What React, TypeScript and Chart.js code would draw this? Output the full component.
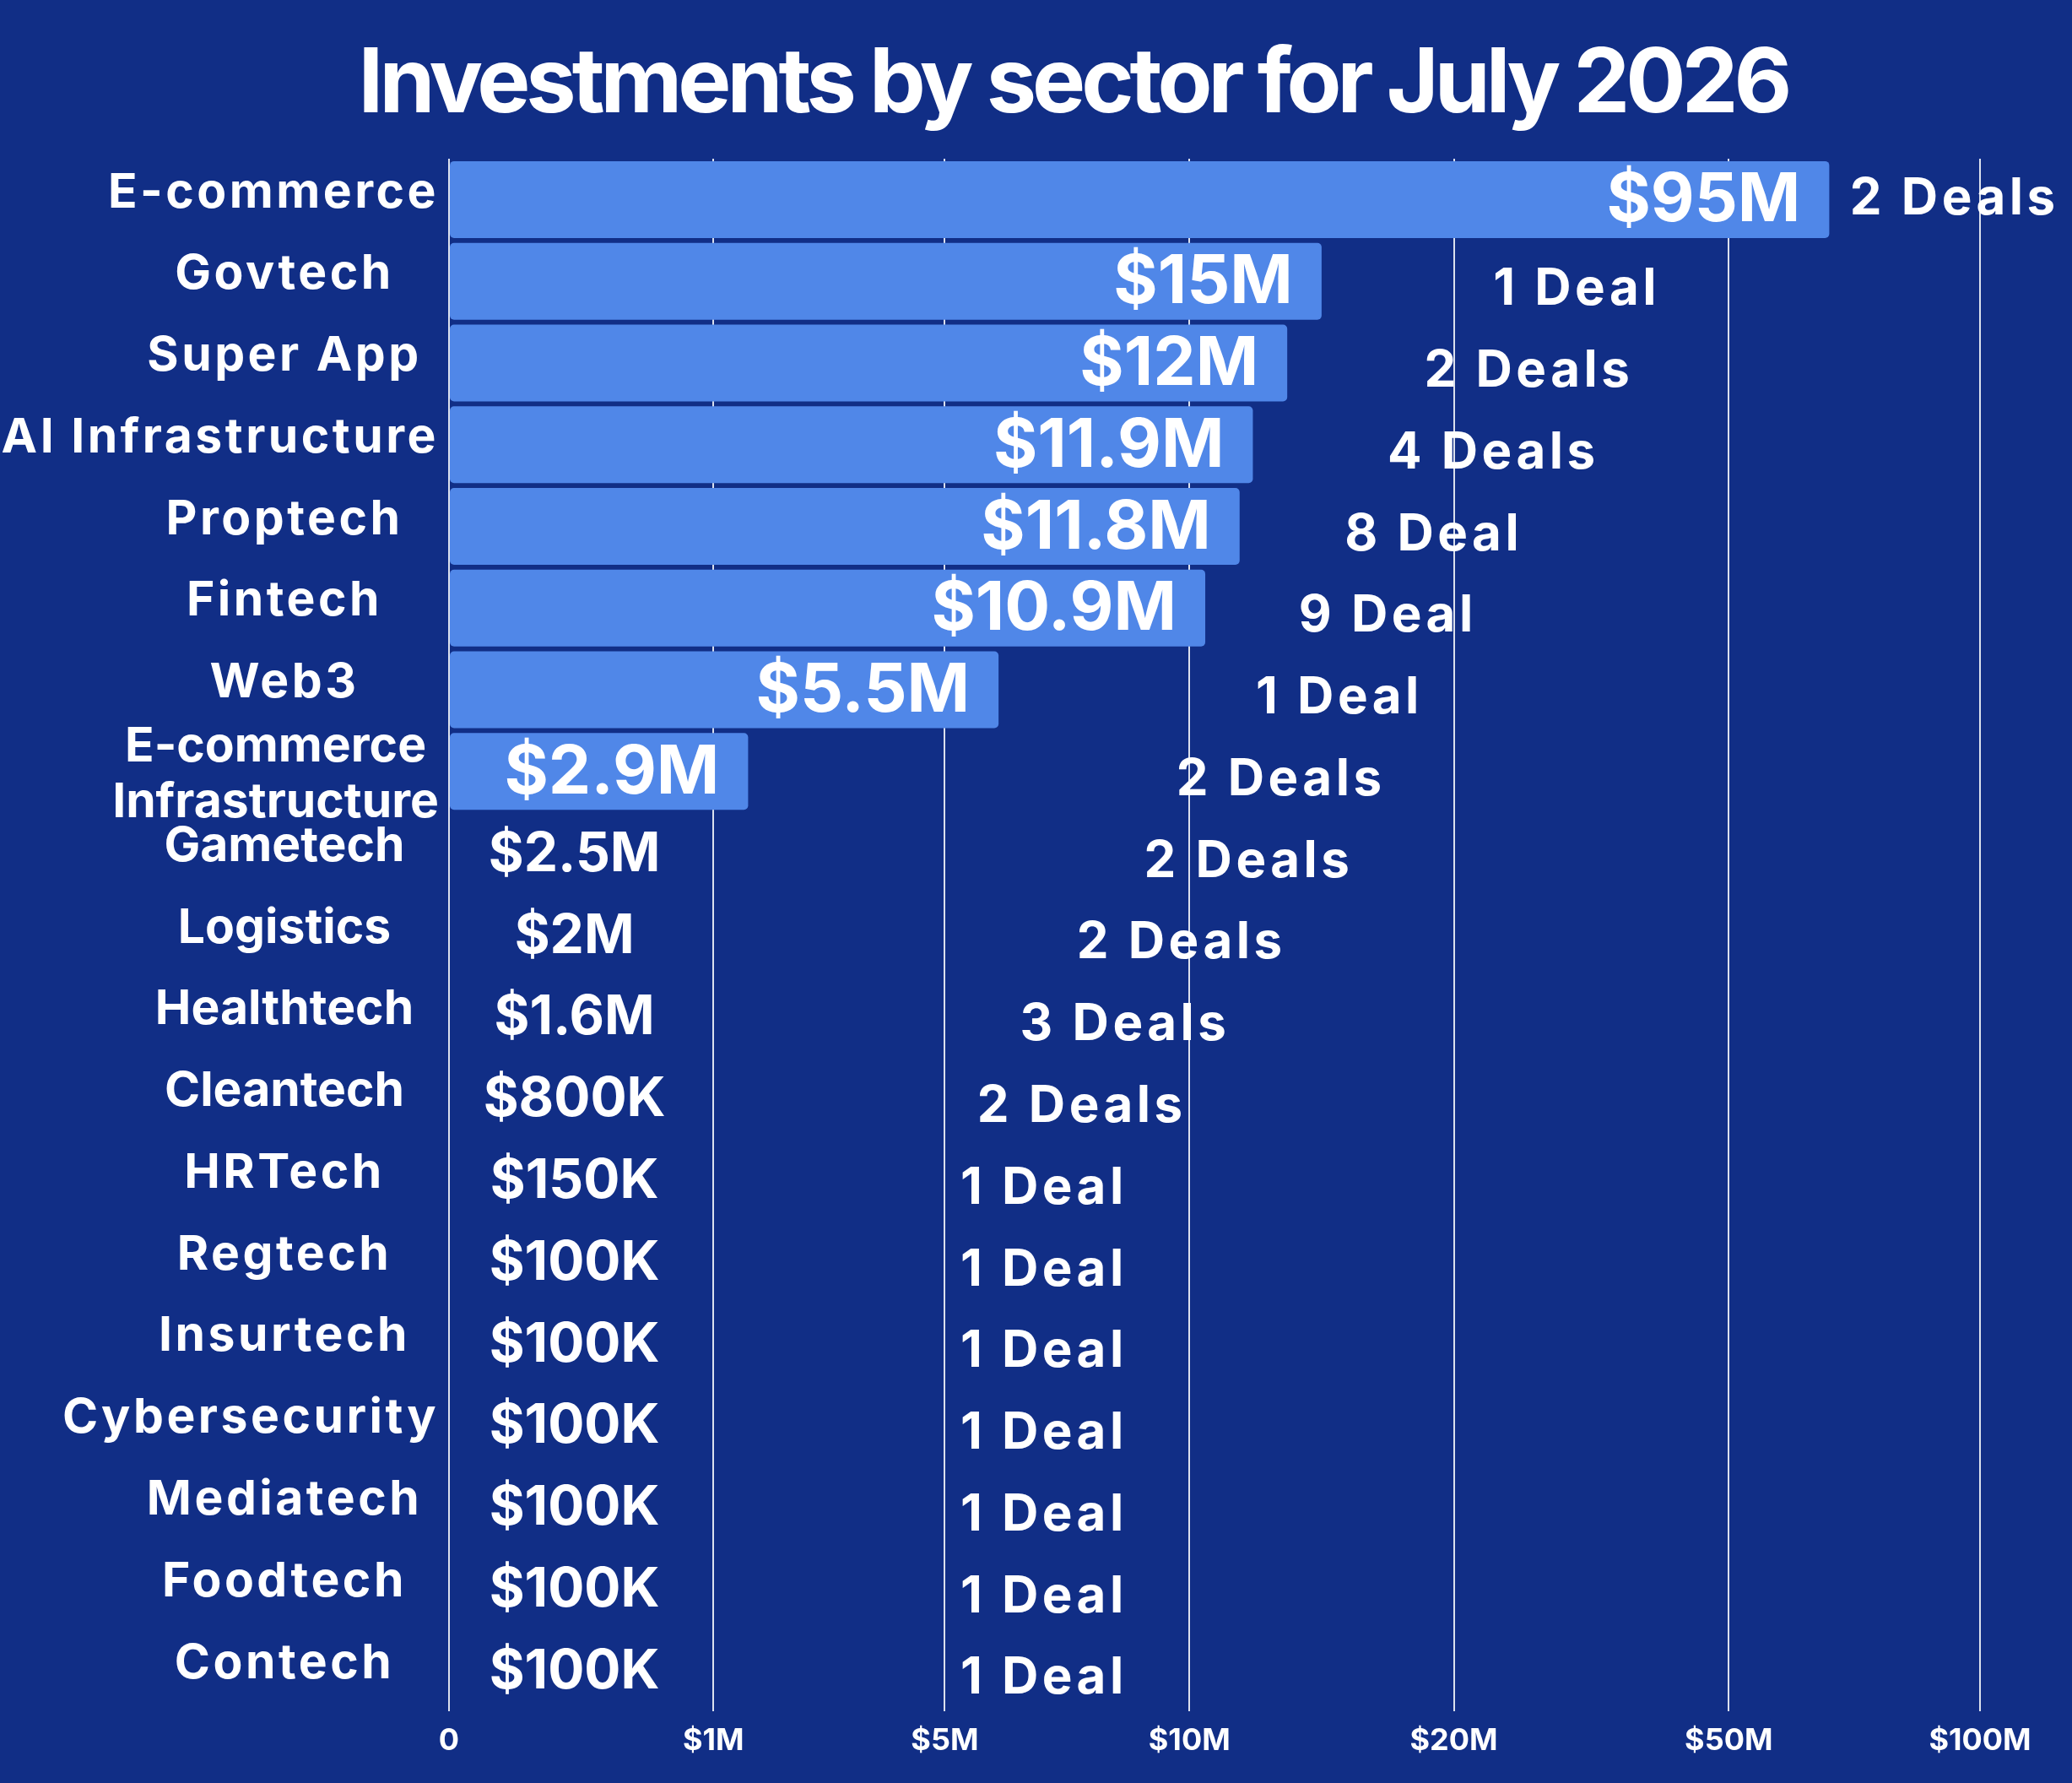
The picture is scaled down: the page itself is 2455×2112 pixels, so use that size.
import { useEffect, useRef } from "react";
import { Chart, LinearScale, registerables } from "chart.js";

const title = "Investments by sector for July 2026";

const categories = [
  "E-commerce",
  "Govtech",
  "Super App",
  "AI Infrastructure",
  "Proptech",
  "Fintech",
  "Web3",
  ["E-commerce", "Infrastructure"],
  "Gametech",
  "Logistics",
  "Healthtech",
  "Cleantech",
  "HRTech",
  "Regtech",
  "Insurtech",
  "Cybersecurity",
  "Mediatech",
  "Foodtech",
  "Contech",
];

// bar lengths in $M as read against the axis (rows without a bar are null)
const barLengths = [70, 15, 13.7, 12.4, 11.9, 10.6, 6.1, 1.6, null, null, null, null, null, null, null, null, null, null, null];

const amountLabels = [
  "$95M", "$15M", "$12M", "$11.9M", "$11.8M", "$10.9M", "$5.5M", "$2.9M",
  "$2.5M", "$2M", "$1.6M", "$800K", "$150K",
  "$100K", "$100K", "$100K", "$100K", "$100K", "$100K",
];

const dealLabels = [
  "2 Deals", "1 Deal", "2 Deals", "4 Deals", "8 Deal", "9 Deal", "1 Deal", "2 Deals",
  "2 Deals", "2 Deals", "3 Deals", "2 Deals", "1 Deal",
  "1 Deal", "1 Deal", "1 Deal", "1 Deal", "1 Deal", "1 Deal",
];

const tickValues = [0, 1, 5, 10, 20, 50, 100];
const tickLabels = ["0", "$1M", "$5M", "$10M", "$20M", "$50M", "$100M"];

const BG = "#112e86";
const BAR = "#5087e8";
const FONT = "Inter, 'Noto Sans', sans-serif";

// where each tick sits along the axis, as a fraction of the plot width
const tickStops = [0, 0.1727, 0.3238, 0.4836, 0.6563, 0.8359, 1];
// left edge of each deal label, as a fraction of the plot width
const dealX = [
  0.915, 0.682, 0.637, 0.613, 0.585, 0.555, 0.527, 0.475, 0.454, 0.41, 0.373,
  0.345, 0.334, 0.334, 0.334, 0.334, 0.334, 0.334, 0.334,
];
// rows whose names are set without extra letter spacing
const tightRows = [7, 8, 9, 10, 11];

// piecewise axis: 0, 1, 5, 10, 20, 50, 100 placed at fixed stops
class BrokenScale extends LinearScale {
  static id = "broken";
  static defaults = {};

  buildTicks() {
    return tickValues.map((value) => ({ value }));
  }

  getPixelForValue(value: number) {
    const n = tickValues.length;
    let f = tickStops[n - 1];
    if (value <= tickValues[0]) f = tickStops[0];
    else {
      for (let i = 0; i < n - 1; i++) {
        if (value <= tickValues[i + 1]) {
          const t = (value - tickValues[i]) / (tickValues[i + 1] - tickValues[i]);
          f = tickStops[i] + t * (tickStops[i + 1] - tickStops[i]);
          break;
        }
      }
    }
    return this.getPixelForDecimal(f);
  }

  getValueForPixel(pixel: number) {
    const f = this.getDecimalForPixel(pixel);
    const n = tickValues.length;
    for (let i = 0; i < n - 1; i++) {
      if (f <= tickStops[i + 1]) {
        const t = (f - tickStops[i]) / (tickStops[i + 1] - tickStops[i]);
        return tickValues[i] + t * (tickValues[i + 1] - tickValues[i]);
      }
    }
    return tickValues[n - 1];
  }
}

Chart.register(...registerables, BrokenScale);

const sectorLabels = {
  id: "sectorLabels",
  afterDatasetsDraw(chart: any) {
    const { ctx, chartArea, scales } = chart;
    const x = scales.x;
    const y = scales.y;
    const meta = chart.getDatasetMeta(0);
    ctx.save();
    ctx.fillStyle = "#fff";
    ctx.textBaseline = "middle";

    // title
    ctx.font = `bold 106px ${FONT}`;
    ctx.letterSpacing = "-5px";
    ctx.textAlign = "center";
    ctx.fillText(title, chart.width / 2 + 44, 101);

    categories.forEach((name, i) => {
      const cy = y.getPixelForValue(i);

      // category name
      const lines = Array.isArray(name) ? name : [name];
      ctx.font = `bold 57px ${FONT}`;
      ctx.letterSpacing = tightRows.includes(i) ? "0px" : "3.5px";
      ctx.textAlign = "center";
      const w = Math.max(...lines.map((l) => ctx.measureText(l).width));
      const cx = Math.min(337, chartArea.left - 12 - w / 2);
      const shift = lines.length > 1 ? 4 : -8;
      lines.forEach((l, k) => {
        ctx.fillText(l, cx, cy + shift + (k - (lines.length - 1) / 2) * 66);
      });

      // amount
      ctx.letterSpacing = "0px";
      if (barLengths[i] != null) {
        ctx.font = `bold 80px ${FONT}`;
        ctx.textAlign = "right";
        ctx.fillText(amountLabels[i], meta.data[i].x - 34, cy + 2);
      } else {
        ctx.font = `bold 64px ${FONT}`;
        ctx.textAlign = "center";
        const mid = (x.getPixelForValue(0) + x.getPixelForValue(1)) / 2 - 8;
        ctx.fillText(amountLabels[i], mid, cy + 2);
      }

      // deals
      ctx.font = `bold 60px ${FONT}`;
      ctx.letterSpacing = "4.5px";
      ctx.textAlign = "left";
      ctx.fillText(
        dealLabels[i],
        chartArea.left + dealX[i] * chartArea.width,
        cy + (i === 0 ? 0 : 10)
      );
    });
    ctx.restore();
  },
};

const SectorChart = () => {
  const chartRef = useRef<HTMLCanvasElement | null>(null);

  useEffect(() => {
    document.body.style.margin = "0";
    const ctx = chartRef.current?.getContext("2d");
    if (!ctx) return;

    const chart = new Chart(ctx, {
      type: "bar",
      data: {
        labels: categories,
        datasets: [
          {
            data: barLengths,
            backgroundColor: BAR,
            borderRadius: 5,
            borderSkipped: false,
            barPercentage: 0.94,
            categoryPercentage: 1,
          },
        ],
      },
      options: {
        indexAxis: "y",
        responsive: true,
        maintainAspectRatio: false,
        animation: false,
        layout: { padding: { left: 532, right: 109, top: 188, bottom: 14 } },
        plugins: {
          legend: { display: false },
          tooltip: { enabled: false },
        },
        scales: {
          x: {
            type: "broken",
            min: 0,
            max: 100,
            grid: {
              color: "rgba(255,255,255,0.85)",
              lineWidth: 2,
              drawTicks: false,
            },
            border: { display: false },
            ticks: {
              autoSkip: false,
              maxRotation: 0,
              padding: 14,
              color: "#fff",
              font: { family: FONT, size: 36, weight: "bold" },
              callback: (_v: any, i: number) => tickLabels[i],
            },
          },
          y: { display: false },
        },
      } as any,
      plugins: [sectorLabels],
    });

    return () => {
      chart.destroy();
    };
  }, []);

  return (
    <div style={{ width: 2455, height: 2112, background: BG, position: "relative" }}>
      <canvas ref={chartRef} />
    </div>
  );
};

export default function App() {
  return <SectorChart />;
}
